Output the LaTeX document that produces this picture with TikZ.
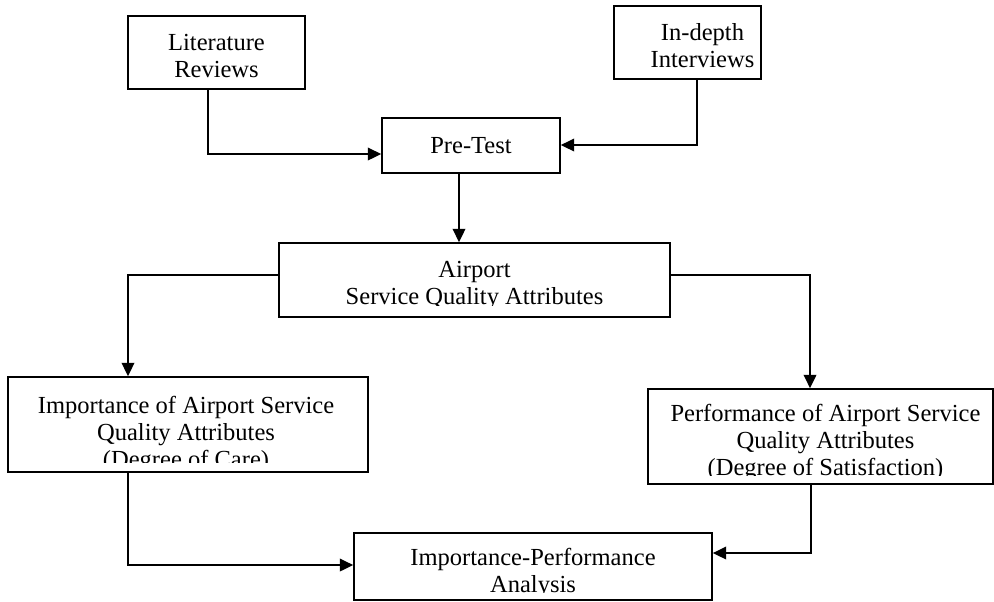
\documentclass[tikz,border=0pt]{standalone}
\usepackage{fontspec}
\setmainfont{Liberation Serif}
\usetikzlibrary{arrows.meta}

\newcommand\diagfont{\fontsize{18.4}{20}\selectfont}
% box text: x shift, last baseline below top, cut above bottom (all in px)
\newcommand\boxtext[4]{%
  \clip (path picture bounding box.north west) rectangle ([yshift=#3*0.75pt]path picture bounding box.south east);
  \node[anchor=base, align=center, inner sep=0pt, font=\diagfont] at ([xshift=#1*0.75pt, yshift=-#2*0.75pt]path picture bounding box.north) {#4};}

\tikzset{
  box/.style={draw, inner sep=0pt},
  size/.style 2 args={minimum width=#1*0.75pt, minimum height=#2*0.75pt},
}

\begin{document}
\begin{tikzpicture}
    [x=0.75pt, y=-0.75pt, line width=1.3pt, >={Triangle[length=10pt,width=9.5pt]}]
    \useasboundingbox (0,0) rectangle (994,601);

    \node[box, size={177}{73}, path picture={\boxtext{0}{61}{0}{Literature\\Reviews}}] (lit) at (216.5,52.5) {};
    \node[box, size={147}{73}, path picture={\boxtext{15}{61}{0}{In-depth\\Interviews}}] (int) at (687.5,42.5) {};
    \node[box, size={178}{55}, path picture={\boxtext{0}{35}{0}{Pre-Test}}] (pre) at (471,145.5) {};
    \node[box, size={391}{74}, path picture={\boxtext{0}{61}{12}{Airport\\Service Quality Attributes}}] (asq) at (474.5,280) {};
    \node[box, size={360}{95}, path picture={\boxtext{-2}{90}{10}{Importance of Airport Service\\Quality Attributes\\(Degree of Care)}}] (imp) at (188,424.5) {};
    \node[box, size={345}{95}, path picture={\boxtext{5}{86}{9}{Performance of Airport Service\\Quality Attributes\\(Degree of Satisfaction)}}] (perf) at (820.5,436.5) {};
    \node[box, size={358}{67}, path picture={\boxtext{0}{59}{8}{Importance-Performance\\Analysis}}] (ipa) at (533,566.5) {};

    % bends of the connectors
    \coordinate (litturn) at (208,154);
    \coordinate (intturn) at (697,145);
    \coordinate (predown) at (459,200);
    \coordinate (lturn) at (128,275);
    \coordinate (rturn) at (810,275);
    \coordinate (impturn) at (128,565);
    \coordinate (perfturn) at (811,553);

    \draw[->] (lit.south -| litturn) |- (pre.west |- litturn);
    \draw[->] (int.south -| intturn) |- (pre.east |- intturn);
    \draw[->] (pre.south -| predown) -- (asq.north -| predown);
    \draw[->] (asq.west |- lturn) -| (imp.north -| lturn);
    \draw[->] (asq.east |- rturn) -| (perf.north -| rturn);
    \draw[->] (imp.south -| impturn) |- (ipa.west |- impturn);
    \draw[->] (perf.south -| perfturn) |- (ipa.east |- perfturn);
\end{tikzpicture}
\end{document}
